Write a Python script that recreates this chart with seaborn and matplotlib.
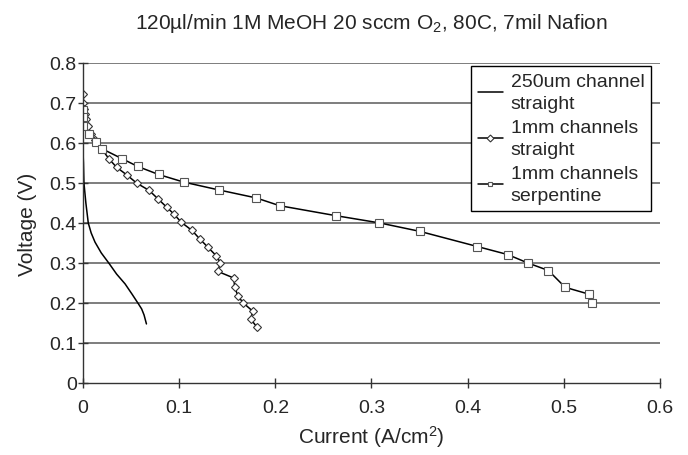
import numpy as np
import pandas as pd
import seaborn as sns
import matplotlib
matplotlib.use('Agg')
import matplotlib.pyplot as plt

# 250um channel, straight (smooth line, no markers)
fine_x = [0.0, 0.0005, 0.001, 0.002, 0.003, 0.0055, 0.0085, 0.0125, 0.019, 0.0275,
          0.035, 0.0438, 0.051, 0.0577, 0.061, 0.0635, 0.066]
fine_y = [0.58, 0.55, 0.50, 0.475, 0.45, 0.40, 0.375, 0.352, 0.325, 0.2975,
          0.272, 0.2475, 0.222, 0.1975, 0.185, 0.17, 0.1475]

# 1mm channels, straight (diamonds)
straight_x = [0.0, 0.0, 0.001, 0.002, 0.003, 0.0055, 0.008, 0.0125, 0.0195, 0.027,
              0.035, 0.0455, 0.056, 0.0689, 0.078, 0.0872, 0.095, 0.102, 0.1134, 0.1214,
              0.130, 0.1385, 0.143, 0.140, 0.157, 0.1576, 0.161, 0.1666, 0.1767, 0.1743, 0.181]
straight_y = [0.721, 0.70, 0.685, 0.672, 0.66, 0.642, 0.6225, 0.606, 0.585, 0.56,
              0.539, 0.52, 0.4992, 0.481, 0.46, 0.439, 0.421, 0.402, 0.381, 0.36,
              0.339, 0.318, 0.300, 0.279, 0.262, 0.241, 0.218, 0.200, 0.179, 0.160, 0.139]

# 1mm channels, serpentine (squares)
serp_x = [0.0, 0.0, 0.0, 0.006, 0.0135, 0.020, 0.041, 0.057, 0.0786, 0.1047, 0.141,
          0.180, 0.2045, 0.2631, 0.3083, 0.350, 0.410, 0.4415, 0.4624, 0.484, 0.5014,
          0.526, 0.529]
serp_y = [0.681, 0.664, 0.643, 0.6225, 0.602, 0.585, 0.56, 0.541, 0.521, 0.502, 0.4825,
          0.4625, 0.443, 0.418, 0.400, 0.379, 0.341, 0.321, 0.300, 0.281, 0.239,
          0.222, 0.199]

labels = ['250um channel\nstraight', '1mm channels\nstraight', '1mm channels\nserpentine']

sns.set_style('white')
plt.rcParams['font.family'] = ['Liberation Sans', 'DejaVu Sans']
plt.rcParams['mathtext.fontset'] = 'custom'
plt.rcParams['mathtext.rm'] = 'Liberation Sans'
plt.rcParams['mathtext.default'] = 'regular'

fig = plt.figure(figsize=(6.88, 4.56), dpi=100)
ax = fig.add_axes([0.1206, 0.158, 0.8387, 0.702])

grid_c = '#5a5a5a'
for yv in np.arange(0.1, 0.81, 0.1):
    ax.axhline(yv, color=grid_c, lw=1.1, zorder=0)

sns.lineplot(x=fine_x, y=fine_y, ax=ax, sort=False, estimator=None,
             color='black', lw=1.1, label=labels[0])
sns.lineplot(x=straight_x, y=straight_y, ax=ax, sort=False, estimator=None,
             color='black', lw=1.1, marker='D', markersize=4,
             markerfacecolor='white', markeredgecolor='#333333', markeredgewidth=0.8,
             label=labels[1])
sns.lineplot(x=serp_x, y=serp_y, ax=ax, sort=False, estimator=None,
             color='black', lw=1.1, marker='s', markersize=5.5,
             markerfacecolor='white', markeredgecolor='#555555', markeredgewidth=0.8,
             label=labels[2])

ax.set_xlim(0, 0.6)
ax.set_ylim(0, 0.8)
ax.set_xticks(np.arange(0, 0.61, 0.1))
ax.set_yticks(np.arange(0, 0.81, 0.1))
ax.set_xticklabels(['0', '0.1', '0.2', '0.3', '0.4', '0.5', '0.6'])
ax.set_yticklabels(['0', '0.1', '0.2', '0.3', '0.4', '0.5', '0.6', '0.7', '0.8'])

for s in ['top', 'right']:
    ax.spines[s].set_visible(False)
for s in ['left', 'bottom']:
    ax.spines[s].set_color('#333333')
    ax.spines[s].set_linewidth(1.0)

ax.tick_params(axis='y', direction='inout', length=7, width=1, color='#333333',
               labelsize=14, left=True, pad=1)
ax.tick_params(axis='x', direction='inout', length=7, width=1, color='#333333',
               labelsize=14, bottom=True, pad=8)

ax.set_xlabel('Current (A/cm$^2$)', fontsize=15, labelpad=5)
ax.set_ylabel('Voltage (V)', fontsize=15, labelpad=9)
ax.set_title('120µl/min 1M MeOH 20 sccm O$_2$, 80C, 7mil Nafion', fontsize=15, pad=25)

leg = ax.legend(loc='upper right', bbox_to_anchor=(0.985, 0.99), borderaxespad=0,
                fontsize=14, frameon=True, fancybox=False, handlelength=1.3,
                labelspacing=0.35, borderpad=0.35, handletextpad=0.4)
leg.get_frame().set_edgecolor('black')
leg.get_frame().set_linewidth(1.0)
leg.get_frame().set_alpha(1)
for t in leg.get_texts():
    t.set_linespacing(1.4)
for h in leg.legend_handles:
    h.set_markersize(3.5)

fig.savefig('out.png', dpi=100, facecolor='white')
